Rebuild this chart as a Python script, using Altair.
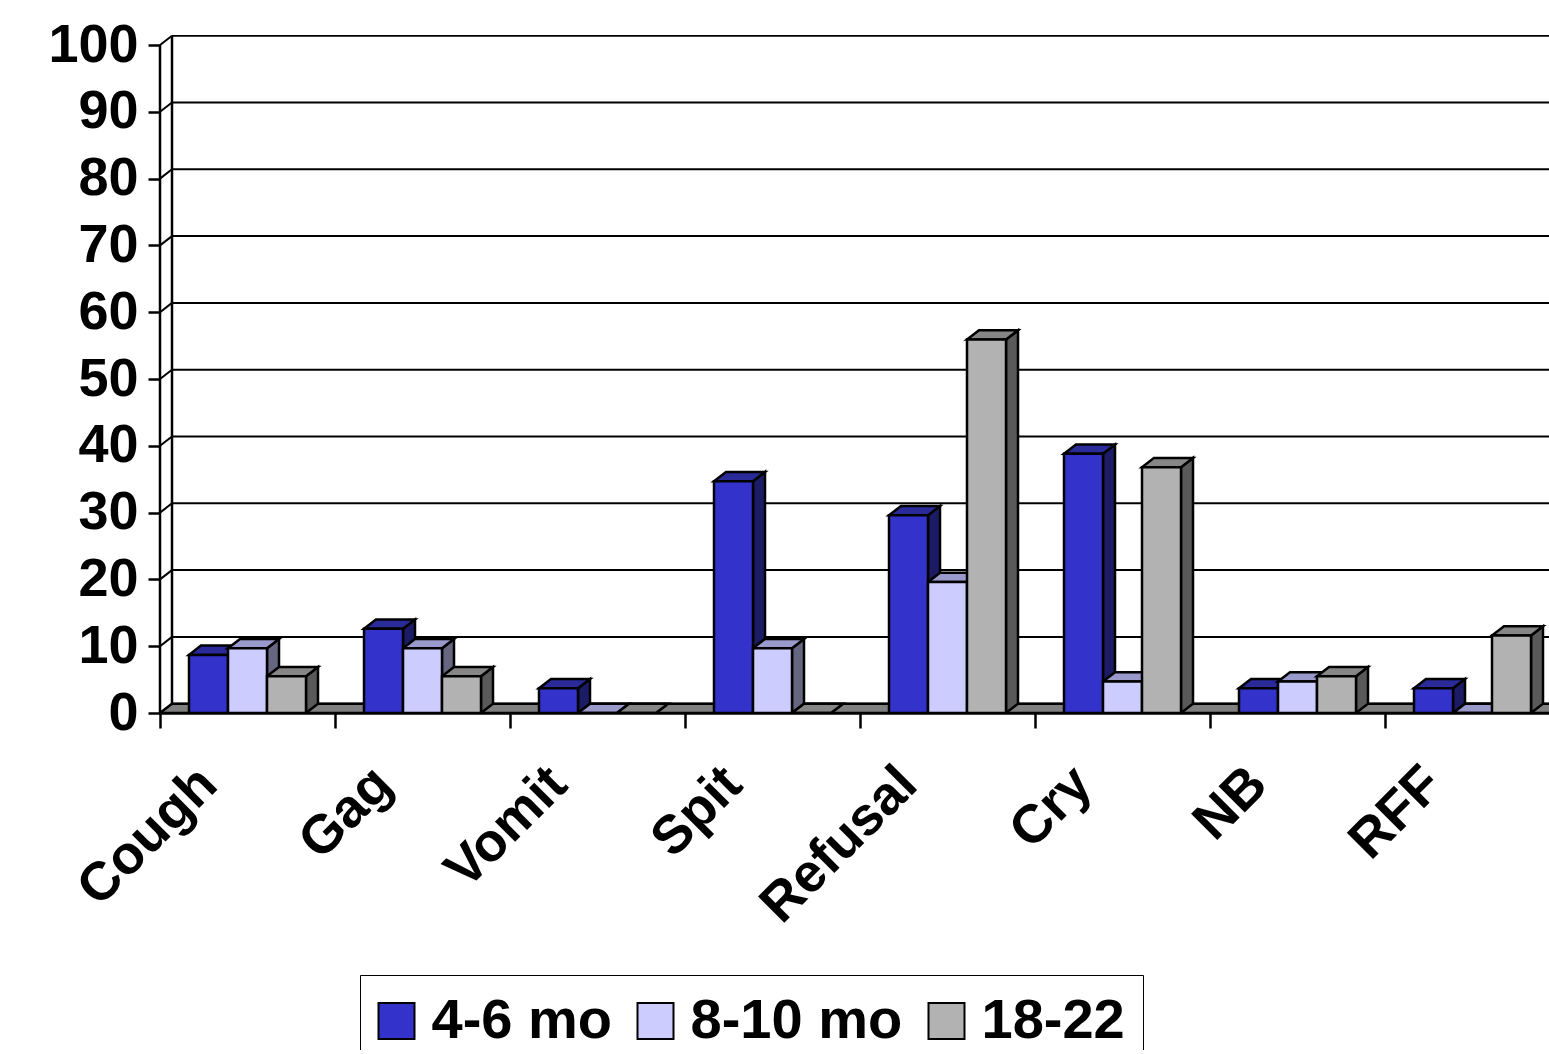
import altair as alt
import pandas as pd

# ---- data -------------------------------------------------------------
categories = ["Cough", "Gag", "Vomit", "Spit", "Refusal", "Cry", "NB", "RFF"]
series = ["4-6 mo", "8-10 mo", "18-22"]
vals_4_6 = [8.7, 12.6, 3.7, 34.7, 29.6, 38.8, 3.7, 3.7]
vals_8_10 = [9.7, 9.7, 0.0, 9.7, 19.6, 4.7, 4.7, 0.0]
vals_18_22 = [5.5, 5.5, 0.0, 0.0, 55.9, 36.8, 5.5, 11.6]
y_ticks = list(range(0, 101, 10))

# ---- style ------------------------------------------------------------
front_colors = ["#3333CC", "#CCCCFF", "#B2B2B2"]
top_colors = ["#2A2A99", "#9999CC", "#868686"]
side_colors = ["#1C1C66", "#666680", "#595959"]
floor_color = "#808080"
FONT = "Liberation Sans"
LW = 2.5

# plot area in pixels
W, H = 1389, 678
PX_X = 175.0              # pixels per category
Y_MAX = 101.5
PX_Y = H / Y_MAX
X_MAX = W / PX_X

# pseudo-3D depth, expressed in data units
DX = 12 / PX_X
DY = 9.3 / PX_Y
GAP = 29 / PX_X
BW = 39 / PX_X

# category label anchor relative to the category centre
LABEL_DX = -39 / PX_X
LABEL_Y = -63 / PX_Y

all_vals = [vals_4_6, vals_8_10, vals_18_22]

# ---- build faces ------------------------------------------------------
fronts, sides, tops = [], [], []
for ci, cat in enumerate(categories):
    for si, name in enumerate(series):
        v = all_vals[si][ci]
        x0 = ci + GAP + si * BW
        x1 = x0 + BW
        key = f"{ci}-{si}"
        fronts.append(dict(series=name, cat=cat, x0=x0, x1=x1, lo=0.0, hi=v))
        sides += [
            dict(key=key, fill=side_colors[si], x=x1, lo=0.0, hi=v),
            dict(key=key, fill=side_colors[si], x=x1 + DX, lo=DY, hi=v + DY),
        ]
        tops += [
            dict(key=key, fill=top_colors[si], x=x0, lo=v, hi=v),
            dict(key=key, fill=top_colors[si], x=x0 + DX, lo=v, hi=v + DY),
            dict(key=key, fill=top_colors[si], x=x1, lo=v, hi=v + DY),
            dict(key=key, fill=top_colors[si], x=x1 + DX, lo=v + DY, hi=v + DY),
        ]

fronts_df = pd.DataFrame(fronts)
sides_df = pd.DataFrame(sides)
tops_df = pd.DataFrame(tops)

n_cat = len(categories)
floor_df = pd.DataFrame(dict(
    x=[0.0, DX, float(n_cat), n_cat + DX],
    lo=[0.0, 0.0, 0.0, DY],
    hi=[0.0, DY, DY, DY],
))

grid_df = pd.DataFrame(dict(
    xa=[0.0] * len(y_ticks),
    xb=[DX] * len(y_ticks),
    xe=[n_cat + DX] * len(y_ticks),
    v=[float(t) for t in y_ticks],
    vb=[t + DY for t in y_ticks],
))

wall_df = pd.DataFrame(dict(x=[DX], lo=[DY], hi=[y_ticks[-1] + DY]))
front_axis_df = pd.DataFrame(dict(x=[0.0], lo=[0.0], hi=[float(y_ticks[-1])]))

label_df = pd.DataFrame(dict(
    cat=categories,
    x=[i + 0.5 + LABEL_DX for i in range(n_cat)],
    y=[LABEL_Y] * n_cat,
))

# ---- shared scales / axes --------------------------------------------
x_scale = alt.Scale(domain=[0, X_MAX], nice=False, zero=False)
y_scale = alt.Scale(domain=[0, Y_MAX], nice=False, zero=False)
x_axis = alt.Axis(values=list(range(n_cat)), labels=False, tickSize=15,
                  tickWidth=LW, tickColor="black", domainColor="black",
                  domainWidth=LW, grid=False, title=None)
y_axis = alt.Axis(values=y_ticks, tickSize=12, tickWidth=LW, tickColor="black",
                  domain=False, grid=False, labelFont=FONT, labelFontSize=54,
                  labelFontWeight="bold", labelColor="black", labelPadding=10,
                  title=None)


def X(f):
    return alt.X(f, type="quantitative", scale=x_scale, axis=x_axis)


def Y(f):
    return alt.Y(f, type="quantitative", scale=y_scale, axis=y_axis, stack=None)


# ---- layers -----------------------------------------------------------
grid = alt.Chart(grid_df).mark_rule(color="black", strokeWidth=2, clip=True).encode(
    x=X("xb"), x2="xe", y=Y("vb"))
diag = alt.Chart(grid_df).mark_rule(color="black", strokeWidth=2).encode(
    x=X("xa"), x2="xb", y=Y("v"), y2="vb")
wall = alt.Chart(wall_df).mark_rule(color="black", strokeWidth=LW).encode(
    x=X("x"), y=Y("lo"), y2="hi")
floor = alt.Chart(floor_df).mark_area(
    color=floor_color, stroke="black", strokeWidth=LW, opacity=1, clip=True
).encode(x=X("x"), y=Y("lo"), y2="hi")

side_faces = alt.Chart(sides_df).mark_area(
    stroke="black", strokeWidth=LW, opacity=1, clip=True
).encode(x=X("x"), y=Y("lo"), y2="hi", detail="key:N",
         fill=alt.Fill("fill:N", scale=None))
top_faces = alt.Chart(tops_df).mark_area(
    stroke="black", strokeWidth=LW, opacity=1, clip=True
).encode(x=X("x"), y=Y("lo"), y2="hi", detail="key:N",
         fill=alt.Fill("fill:N", scale=None))

front_faces = alt.Chart(fronts_df).mark_rect(
    stroke="black", strokeWidth=LW, opacity=1, clip=True
).encode(
    x=X("x0"), x2="x1", y=Y("lo"), y2="hi",
    color=alt.Color(
        "series:N",
        scale=alt.Scale(domain=series, range=front_colors),
        legend=alt.Legend(
            orient="none", legendX=200, legendY=940, direction="horizontal",
            title=None, strokeColor="black", fillColor="white", padding=18,
            symbolType="square", symbolSize=1296, symbolStrokeColor="black",
            symbolStrokeWidth=2, symbolOpacity=1, symbolOffset=-9.5,
            labelFont=FONT, labelFontSize=56, labelFontWeight="bold",
            labelColor="black", labelOffset=7, columnPadding=21,
            labelLimit=500,
        ),
    ),
)

front_axis = alt.Chart(front_axis_df).mark_rule(color="black", strokeWidth=LW).encode(
    x=X("x"), y=Y("lo"), y2="hi")

labels = alt.Chart(label_df).mark_text(
    font=FONT, fontSize=54, fontWeight="bold", angle=315, align="right",
    baseline="middle", color="black"
).encode(x=X("x"), y=Y("y"), text="cat:N")

chart = alt.layer(
    grid, diag, wall, floor, side_faces, top_faces, front_faces, front_axis, labels
).properties(
    width=W, height=H,
    padding={"left": 160, "top": 35, "right": 0, "bottom": 337},
    autosize=alt.AutoSizeParams(type="none"),
    background="white",
).configure_view(strokeWidth=0)

chart.save("out.html", embed_options={"renderer": "svg", "actions": False})
